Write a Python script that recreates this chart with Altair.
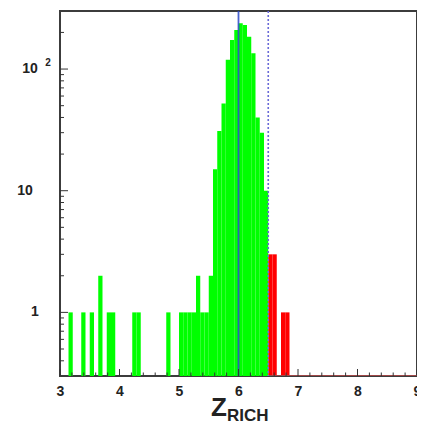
import altair as alt
import pandas as pd

# ---------------- data ----------------
X_MIN, X_MAX = 3.0, 9.0
Y_MIN, Y_MAX = 0.3, 300
BIN_W = 1 / 14           # histogram bin width
Z_CARBON = 6.0           # solid blue line
Z_CUT = 6.5              # dotted blue line

# green histogram, bins starting at 3.0 (k = 0 .. 48)
green_counts = [0, 0, 1, 0, 0, 1, 0, 1, 0, 2,
                0, 1, 1, 0, 0, 0, 0, 1, 1, 0,
                0, 0, 0, 0, 0, 1, 0, 0, 1, 1,
                1, 1, 2, 1, 1, 2, 15, 31, 52, 119,
                173, 209, 238, 230, 184, 135, 40, 30, 10]
# red histogram (events above the cut), first bin index 49
red_first_bin = 49
red_counts = [3, 3, 0, 1, 1]

x_major = [3, 4, 5, 6, 7, 8, 9]
x_minor = [3.2, 3.4, 3.6, 3.8, 4.2, 4.4, 4.6, 4.8, 5.2, 5.4, 5.6, 5.8,
           6.2, 6.4, 6.6, 6.8, 7.2, 7.4, 7.6, 7.8, 8.2, 8.4, 8.6, 8.8]
y_major = [1, 10, 100]
y_minor = [0.4, 0.5, 0.6, 0.7, 0.8, 0.9, 2, 3, 4, 5, 6, 7, 8, 9,
           20, 30, 40, 50, 60, 70, 80, 90, 200]

# ---------------- build tables ----------------
rows = []
for k, c in enumerate(green_counts):
    if c > 0:
        s = X_MIN + k * BIN_W
        rows.append({"start": s, "end": s + BIN_W, "count": c, "series": "all"})
for i, c in enumerate(red_counts):
    if c > 0:
        s = X_MIN + (red_first_bin + i) * BIN_W
        rows.append({"start": s, "end": s + BIN_W, "count": c, "series": "cut"})
hist = pd.DataFrame(rows)

W, H = 357, 365
FONT = "Liberation Sans"
TXT = "#222"

xs = alt.Scale(domain=[X_MIN, X_MAX], nice=False, zero=False)
ys = alt.Scale(type="log", domain=[Y_MIN, Y_MAX], nice=False, clamp=True)

bars = alt.Chart(hist).mark_rect().encode(
    x=alt.X("start:Q", scale=xs,
            axis=alt.Axis(values=x_major, format="d", ticks=False, domain=False,
                          grid=False, title=None, labelFont=FONT, labelFontSize=14,
                          labelFontWeight="bold", labelColor=TXT,
                          labelPadding=8, labelFlush=False)),
    x2="end:Q",
    y=alt.Y("count:Q", scale=ys, axis=None),
    y2=alt.value(H),
    color=alt.Color("series:N", legend=None,
                    scale=alt.Scale(domain=["all", "cut"], range=["#00ff00", "#ff0000"])),
)

base_red = alt.Chart(pd.DataFrame({"a": [Z_CUT], "b": [X_MAX]})).mark_rule(
    color="#a04848", strokeWidth=1.2).encode(
    x=alt.X("a:Q", scale=xs), x2="b:Q", y=alt.value(H - 0.5))

line6 = alt.Chart(pd.DataFrame({"z": [Z_CARBON]})).mark_rule(
    color="#2a48c8", strokeWidth=1.8, opacity=0.85).encode(
    x=alt.X("z:Q", scale=xs), y=alt.value(0), y2=alt.value(H))

linecut = alt.Chart(pd.DataFrame({"z": [Z_CUT]})).mark_rule(
    color="#6a6ad8", strokeWidth=1.6, strokeDash=[2, 2]).encode(
    x=alt.X("z:Q", scale=xs), y=alt.value(0), y2=alt.value(H))

ymaj = alt.Chart(pd.DataFrame({"v": y_major})).mark_rule(color="#333", strokeWidth=1).encode(
    y=alt.Y("v:Q", scale=ys), x=alt.value(0), x2=alt.value(8))
ymin = alt.Chart(pd.DataFrame({"v": y_minor})).mark_rule(color="#333", strokeWidth=1).encode(
    y=alt.Y("v:Q", scale=ys), x=alt.value(0), x2=alt.value(4))
xmaj = alt.Chart(pd.DataFrame({"v": x_major})).mark_rule(color="#333", strokeWidth=1).encode(
    x=alt.X("v:Q", scale=xs), y=alt.value(H), y2=alt.value(H - 7))
xmin = alt.Chart(pd.DataFrame({"v": x_minor})).mark_rule(color="#333", strokeWidth=1).encode(
    x=alt.X("v:Q", scale=xs), y=alt.value(H), y2=alt.value(H - 3.5))


def ylabel(value, text, px, size=14, dy=0):
    return alt.Chart(pd.DataFrame({"v": [value], "t": [text]})).mark_text(
        font=FONT, fontSize=size, fontWeight="bold", color=TXT, align="center",
        baseline="middle", dy=dy).encode(
        y=alt.Y("v:Q", scale=ys), x=alt.value(px), text="t:N")


lab1 = ylabel(1, "1", -25)
lab10 = ylabel(10, "10", -35)
lab100 = ylabel(100, "10", -30)
lab100e = ylabel(100, "2", -12, size=10, dy=-6)

title_z = alt.Chart(pd.DataFrame({"t": ["Z"]})).mark_text(
    font=FONT, fontSize=26, fontWeight="bold", color=TXT, align="left",
    baseline="alphabetic").encode(text="t:N", x=alt.value(151), y=alt.value(405))
title_sub = alt.Chart(pd.DataFrame({"t": ["RICH"]})).mark_text(
    font=FONT, fontSize=17, fontWeight="bold", color=TXT, align="left",
    baseline="alphabetic").encode(text="t:N", x=alt.value(167), y=alt.value(410))

chart = alt.layer(bars, base_red, line6, linecut, ymaj, ymin, xmaj, xmin,
                  lab1, lab10, lab100, lab100e, title_z, title_sub).properties(
    width=W, height=H,
    autosize=alt.AutoSizeParams(type="none"),
    padding={"left": 52, "top": 3, "right": 0, "bottom": 50},
).configure_view(stroke="#3c3c3c", strokeWidth=2)

chart.save("out.html", embed_options={"renderer": "svg", "actions": False})
